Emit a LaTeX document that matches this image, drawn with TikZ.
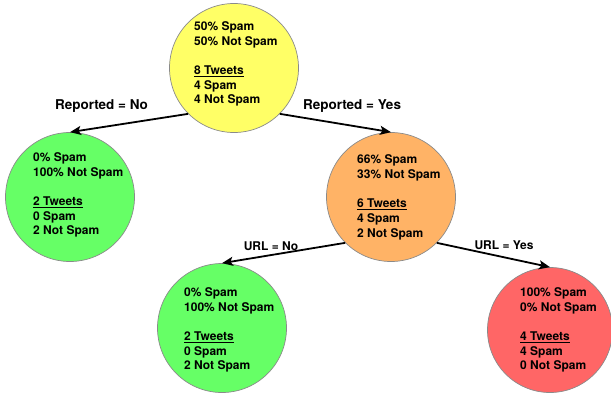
\documentclass[tikz,border=0pt]{standalone}
\usepackage{fontspec}
\setmainfont{TeX Gyre Heros}
\usetikzlibrary{arrows.meta}

\definecolor{leafyellow}{HTML}{FFFF66}
\definecolor{leafgreen}{HTML}{66FF66}
\definecolor{leaforange}{HTML}{FFB366}
\definecolor{leafred}{HTML}{FF6666}
\definecolor{rimgray}{HTML}{8A8A8A}

\tikzset{
  treenode/.style={circle, draw=rimgray, line width=0.7pt, inner sep=0pt, minimum size=129pt},
  stats/.style={anchor=west, align=left, inner sep=0pt, font=\bfseries\fontsize{12}{14.7}\selectfont},
  branch/.style={line width=1.8pt, -{Stealth[length=11pt,width=9pt,inset=2.5pt]}},
  splitlabel/.style={font=\bfseries\fontsize{13.5}{16}\selectfont, inner sep=1pt},
  urllabel/.style={font=\bfseries\fontsize{12}{14}\selectfont, inner sep=1pt}
}

\begin{document}
\begin{tikzpicture}[x=1pt, y=-1pt]
  \useasboundingbox (0,0) rectangle (611,394);

  % tree nodes
  \node[treenode, fill=leafyellow] (root) at (234,68) {};
  \node[treenode, fill=leafgreen] (repno) at (70,197) {};
  \node[treenode, fill=leaforange] (repyes) at (391,197) {};
  \node[treenode, fill=leafgreen] (urlno) at (222,328) {};
  \node[treenode, fill=leafred, minimum size=125pt] (urlyes) at (550,330) {};

  % statistics inside each node
  \node[stats] (rootstats) at (194,64)
    {50\% Spam\\50\% Not Spam\\[14.7pt]\underline{8 Tweets}\\4 Spam\\4 Not Spam};
  \node[stats] (repnostats) at (33,195)
    {0\% Spam\\100\% Not Spam\\[14.7pt]\underline{2 Tweets}\\0 Spam\\2 Not Spam};
  \node[stats] (repyesstats) at (357,197.5)
    {66\% Spam\\33\% Not Spam\\[14.7pt]\underline{6 Tweets}\\4 Spam\\2 Not Spam};
  \node[stats] (urlnostats) at (184,330)
    {0\% Spam\\100\% Not Spam\\[14.7pt]\underline{2 Tweets}\\0 Spam\\2 Not Spam};
  \node[stats] (urlyesstats) at (520,330)
    {100\% Spam\\0\% Not Spam\\[14.7pt]\underline{4 Tweets}\\4 Spam\\0 Not Spam};

  % branches
  \draw[branch] (root.-135) -- (repno.north);
  \draw[branch] (root.-45) -- (repyes.north);
  \draw[branch] (repyes.-135) -- (urlno.north);
  \draw[branch] (repyes.-45) -- (urlyes.north);

  % branch conditions
  \node[splitlabel] (lblrepno) at (101.5,106) {Reported = No};
  \node[splitlabel] (lblrepyes) at (352,106) {Reported = Yes};
  \node[urllabel] (lblurlno) at (271,246) {URL = No};
  \node[urllabel] (lblurlyes) at (504,245) {URL = Yes};
\end{tikzpicture}
\end{document}
